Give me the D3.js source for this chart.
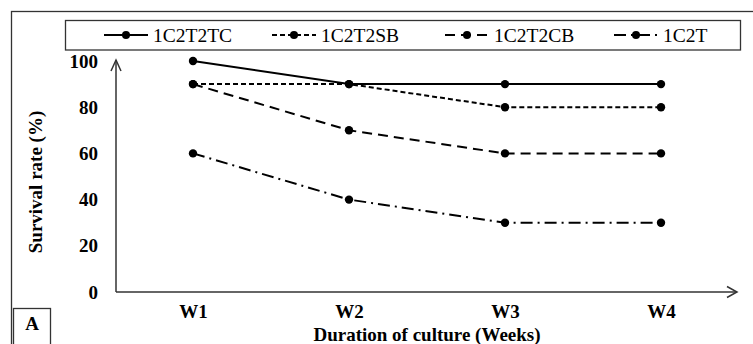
<!DOCTYPE html>
<html>
<head>
<meta charset="utf-8">
<script src="https://cdn.jsdelivr.net/npm/d3@7"></script>
<style>
  html, body { margin: 0; padding: 0; background: #fff; }
  svg { display: block; }
</style>
</head>
<body>
<svg id="chart" width="753" height="344"></svg>
<script>
// Weekly survival rates for four culture treatments
const weeks = ["W1", "W2", "W3", "W4"];
const seriesNames = ["1C2T2TC", "1C2T2SB", "1C2T2CB", "1C2T"];
const valuesTC = [100, 90, 90, 90];
const valuesSB = [90, 90, 80, 80];
const valuesCB = [90, 70, 60, 60];
const valuesT = [60, 40, 30, 30];
const yTicks = [0, 20, 40, 60, 80, 100];
const dashes = [null, "5,3", "10,6", "12,5,2,5"];

const seriesValues = [valuesTC, valuesSB, valuesCB, valuesT];
const series = seriesNames.map((name, i) => ({
  name,
  dash: dashes[i],
  points: weeks.map((w, j) => ({ week: w, value: seriesValues[i][j] }))
}));

const svg = d3.select("#chart");
const serif = "Liberation Serif";
const axisColor = "#333";

const x = d3.scalePoint().domain(weeks).range([193, 661]);
const y = d3.scaleLinear().domain([0, 100]).range([292, 61]);
const x0 = 116, xEnd = 737, yTop = 60;

function bold(sel, size) {
  return sel.style("font-family", serif).style("font-size", size + "px")
    .style("font-weight", "bold").attr("fill", "#000");
}

// outer panel frame
svg.append("rect")
  .attr("x", 11.5).attr("y", 11.5)
  .attr("width", 800).attr("height", 400)
  .attr("fill", "none").attr("stroke", axisColor).attr("stroke-width", 1.3);

// axis lines with open arrowheads
const axes = svg.append("g").attr("stroke", axisColor).attr("stroke-width", 1.5).attr("fill", "none");
axes.append("line").attr("x1", x0).attr("y1", y(0)).attr("x2", x0).attr("y2", yTop);
axes.append("path").attr("d", `M${x0 - 5},${yTop + 11}L${x0},${yTop}L${x0 + 5},${yTop + 11}`);
axes.append("line").attr("x1", x0).attr("y1", y(0)).attr("x2", xEnd).attr("y2", y(0));
axes.append("path").attr("d", `M${xEnd - 10},${y(0) - 5.5}L${xEnd},${y(0)}L${xEnd - 10},${y(0) + 5.5}`);

// y tick labels
const yAxis = svg.append("g")
  .attr("transform", `translate(${x0 - 14},0)`)
  .call(d3.axisLeft(y).tickValues(yTicks).tickSize(0).tickPadding(4));
yAxis.select(".domain").remove();
bold(yAxis.selectAll("text"), 19);

// x tick labels
const xAxis = svg.append("g")
  .attr("transform", `translate(0,${y(0) + 12})`)
  .call(d3.axisBottom(x).tickSize(0).tickPadding(0));
xAxis.select(".domain").remove();
bold(xAxis.selectAll("text"), 19);

// axis titles
bold(svg.append("text")
  .attr("transform", "translate(42,182) rotate(-90)")
  .attr("text-anchor", "middle"), 19)
  .text("Survival rate (%)");
bold(svg.append("text")
  .attr("x", 427).attr("y", 341)
  .attr("text-anchor", "middle"), 19)
  .text("Duration of culture (Weeks)");

// panel letter
svg.append("rect")
  .attr("x", 13.5).attr("y", 308.5).attr("width", 37).attr("height", 40)
  .attr("fill", "#fff").attr("stroke", axisColor).attr("stroke-width", 1.3);
bold(svg.append("text")
  .attr("x", 32).attr("y", 330)
  .attr("text-anchor", "middle"), 19)
  .text("A");

// series lines and markers
const line = d3.line().x(d => x(d.week)).y(d => y(d.value));
const g = svg.append("g");
series.forEach(s => {
  g.append("path")
    .datum(s.points)
    .attr("d", line)
    .attr("fill", "none").attr("stroke", "#000").attr("stroke-width", 2)
    .attr("stroke-dasharray", s.dash);
  g.selectAll(null).data(s.points).join("circle")
    .attr("cx", d => x(d.week)).attr("cy", d => y(d.value))
    .attr("r", 4.2).attr("fill", "#000");
});

// legend
svg.append("rect")
  .attr("x", 65.5).attr("y", 20.5).attr("width", 675).attr("height", 29.5)
  .attr("fill", "#fff").attr("stroke", axisColor).attr("stroke-width", 1.3);
const legendX = [104, 272, 445, 614];
const legend = svg.append("g");
series.forEach((s, i) => {
  const lx = legendX[i];
  legend.append("line")
    .attr("x1", lx).attr("x2", lx + 44).attr("y1", 35).attr("y2", 35)
    .attr("stroke", "#000").attr("stroke-width", 2)
    .attr("stroke-dasharray", s.dash);
  legend.append("circle").attr("cx", lx + 22).attr("cy", 35).attr("r", 4).attr("fill", "#000");
  legend.append("text")
    .attr("x", lx + 49).attr("y", 41.5)
    .style("font-family", serif).style("font-size", "19.5px")
    .attr("fill", "#000")
    .text(s.name);
});
</script>
</body>
</html>
